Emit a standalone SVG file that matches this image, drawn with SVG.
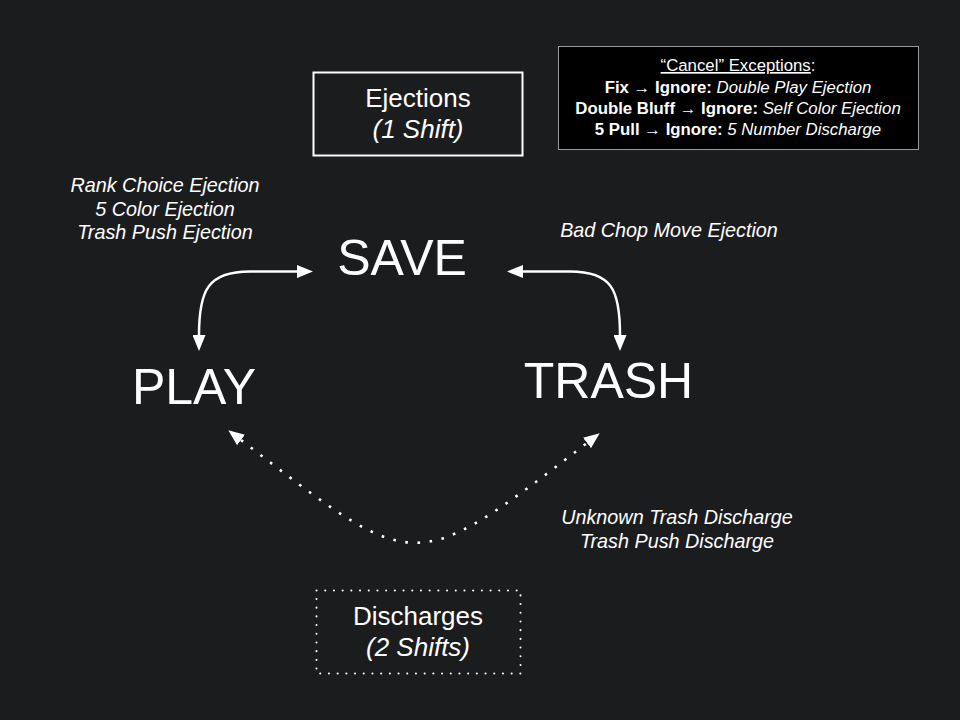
<svg xmlns="http://www.w3.org/2000/svg" width="960" height="720" viewBox="0 0 960 720">
<style>
text{font-family:"Liberation Sans",Arial,sans-serif;fill:#ffffff}
.big{font-size:50px}
.lab{font-size:19.8px;font-style:italic}
.box{font-size:26px}
.exc{font-size:16.8px}
.b{font-weight:bold}
.i{font-style:italic}
.edge{fill:none;stroke:#ffffff;stroke-width:2.5}
.dot{stroke-width:2.6;stroke-dasharray:2.6 9.6}
</style>
<defs>
<marker id="ah" markerUnits="userSpaceOnUse" viewBox="0 0 16 13" markerWidth="16" markerHeight="13" refX="0" refY="6.5" orient="auto-start-reverse">
<path d="M0,0 L16,6.5 L0,13 z" fill="#ffffff"/>
</marker>
</defs>
<rect width="960" height="720" fill="#1b1c1e"/>
<g id="connectors">
<path class="edge" d="M199,335 C199,290 208,271.5 250,271.5 L297,271.5" marker-start="url(#ah)" marker-end="url(#ah)"/>
<path class="edge" d="M523,271.5 L570,271.5 C612,271.5 620,290 620,335" marker-start="url(#ah)" marker-end="url(#ah)"/>
<path class="edge dot" d="M241,440 C417,575 411,578 587,443" marker-start="url(#ah)" marker-end="url(#ah)"/>
</g>
<g id="save"><text class="big" x="402" y="275" text-anchor="middle">SAVE</text></g>
<g id="play"><text class="big" x="194" y="404" text-anchor="middle">PLAY</text></g>
<g id="trash"><text class="big" x="608.5" y="398" text-anchor="middle">TRASH</text></g>
<g id="ejections">
<rect x="313.5" y="72.5" width="209" height="83" fill="none" stroke="#ffffff" stroke-width="2"/>
<text class="box" x="418" y="106.5" text-anchor="middle">Ejections</text>
<text class="box i" x="418" y="138" text-anchor="middle">(1 Shift)</text>
</g>
<g id="discharges">
<rect x="316.5" y="590.5" width="204" height="83" fill="none" stroke="#ffffff" stroke-width="2" stroke-dasharray="0.1 8.6" stroke-linecap="round"/>
<text class="box" x="418" y="624.5" text-anchor="middle">Discharges</text>
<text class="box i" x="418" y="656" text-anchor="middle">(2 Shifts)</text>
</g>
<g id="exceptions">
<rect x="558.5" y="46.5" width="360" height="103" fill="#000000" stroke="#9a9a9a" stroke-width="1"/>
<text class="exc" x="738" y="71" text-anchor="middle"><tspan text-decoration="underline">“Cancel” Exceptions</tspan>:</text>
<text class="exc" x="738" y="93" text-anchor="middle"><tspan class="b">Fix → Ignore:</tspan> <tspan class="i">Double Play Ejection</tspan></text>
<text class="exc" x="738" y="114" text-anchor="middle"><tspan class="b">Double Bluff → Ignore:</tspan> <tspan class="i">Self Color Ejection</tspan></text>
<text class="exc" x="738" y="135" text-anchor="middle"><tspan class="b">5 Pull → Ignore:</tspan> <tspan class="i">5 Number Discharge</tspan></text>
</g>
<g id="save-play-label">
<text class="lab" x="165" y="192" text-anchor="middle">Rank Choice Ejection</text>
<text class="lab" x="165" y="215.5" text-anchor="middle">5 Color Ejection</text>
<text class="lab" x="165" y="239" text-anchor="middle">Trash Push Ejection</text>
</g>
<g id="save-trash-label">
<text class="lab" x="669" y="237" text-anchor="middle">Bad Chop Move Ejection</text>
</g>
<g id="discharge-label">
<text class="lab" x="677" y="523.5" text-anchor="middle">Unknown Trash Discharge</text>
<text class="lab" x="677" y="548" text-anchor="middle">Trash Push Discharge</text>
</g>
</svg>
